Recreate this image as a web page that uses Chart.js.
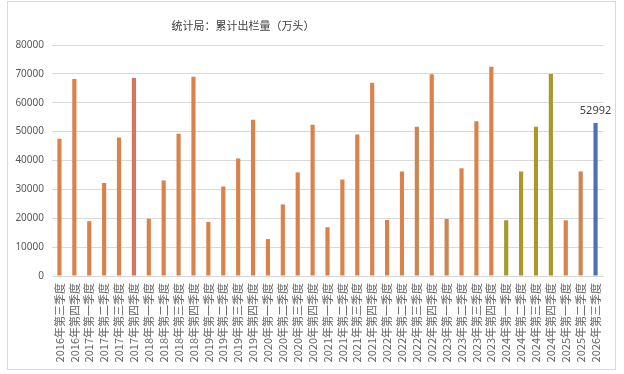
<!DOCTYPE html>
<html>
<head>
<meta charset="utf-8">
<script src="https://cdn.jsdelivr.net/npm/chart.js@4.4.1/dist/chart.umd.min.js"></script>
<style>
  body { margin: 0; background: #fff; }
  #wrap { position: relative; width: 624px; height: 374px; }
  #frame { position: absolute; left: 7px; top: 1px; width: 607px; height: 367px; border: 1px solid #d9d9d9; }
  #title { position: absolute; left: 143px; width: 200px; top: 17px; text-align: center;
    font: 11px "Noto Sans CJK SC", sans-serif; color: #404040; }
  canvas { position: absolute; left: 0; top: 0; }
</style>
</head>
<body>
<div id="wrap">
  <div id="frame"></div>
  <canvas id="myChart" width="624" height="374"></canvas>
  <div id="title">统计局：累计出栏量（万头）</div>
</div>
<script>
const quarters = [
  "2016年第三季度", "2016年第四季度",
  "2017年第一季度", "2017年第二季度", "2017年第三季度", "2017年第四季度",
  "2018年第一季度", "2018年第二季度", "2018年第三季度", "2018年第四季度",
  "2019年第一季度", "2019年第二季度", "2019年第三季度", "2019年第四季度",
  "2020年第一季度", "2020年第二季度", "2020年第三季度", "2020年第四季度",
  "2021年第一季度", "2021年第二季度", "2021年第三季度", "2021年第四季度",
  "2022年第一季度", "2022年第二季度", "2022年第三季度", "2022年第四季度",
  "2023年第一季度", "2023年第二季度", "2023年第三季度", "2023年第四季度",
  "2024年第一季度", "2024年第二季度", "2024年第三季度", "2024年第四季度",
  "2025年第一季度", "2025年第二季度", "2026年第三季度"
];

const slaughter = [
  47500, 68200,
  19000, 32200, 48000, 68600,
  19800, 33100, 49300, 69000,
  18700, 31000, 40700, 54100,
  12800, 24800, 35900, 52400,
  16900, 33400, 49000, 66900,
  19400, 36200, 51700, 69900,
  19800, 37300, 53600, 72500,
  19300, 36200, 51700, 70000,
  19300, 36200, 52992
];

const barColors = [
  "#d9834a", "#d9834a",
  "#d9834a", "#d9834a", "#d9834a", "#d6745c",
  "#d9834a", "#d9834a", "#d9834a", "#d9834a",
  "#d9834a", "#d9834a", "#d9834a", "#d9834a",
  "#d9834a", "#d9834a", "#d9834a", "#d9834a",
  "#d9834a", "#d9834a", "#d9834a", "#d9834a",
  "#d9834a", "#d9834a", "#cb8753", "#d9834a",
  "#cb8753", "#d9834a", "#d9834a", "#d9834a",
  "#a9982a", "#a9982a", "#a9982a", "#a9982a",
  "#d9834a", "#cb8753", "#4a72b8"
];

const yTicks = { min: 0, max: 80000, step: 10000 };

// value label only on the last bar
const lastLabel = {
  id: "lastLabel",
  afterDatasetsDraw(chart) {
    const meta = chart.getDatasetMeta(0);
    const i = slaughter.length - 1;
    const bar = meta.data[i];
    const ctx = chart.ctx;
    ctx.save();
    ctx.font = "11px 'Noto Sans', sans-serif";
    ctx.fillStyle = "#404040";
    ctx.textAlign = "center";
    ctx.textBaseline = "bottom";
    ctx.fillText(String(slaughter[i]), bar.x, bar.y - 7);
    ctx.restore();
  }
};

const chart = new Chart(document.querySelector("#myChart"), {
  type: "bar",
  data: {
    labels: quarters,
    datasets: [{
      data: slaughter,
      backgroundColor: barColors,
      barPercentage: 0.28,
      categoryPercentage: 1
    }]
  },
  options: {
    responsive: false,
    animation: false,
    layout: { padding: { top: 45, right: 21, left: 0, bottom: 0 } },
    plugins: { legend: { display: false }, tooltip: { enabled: false } },
    scales: {
      x: {
        grid: { display: false, drawTicks: false },
        border: { color: "#d9d9d9" },
        ticks: {
          autoSkip: false, minRotation: 90, maxRotation: 90, padding: 7,
          color: "#666666", font: { size: 11, family: "'Noto Sans CJK SC', sans-serif" }
        },
        afterFit: (s) => { s.height = 98; }
      },
      y: {
        min: yTicks.min, max: yTicks.max,
        grid: { color: "#d9d9d9", drawTicks: false },
        border: { display: false },
        ticks: {
          stepSize: yTicks.step, padding: 8,
          color: "#595959", font: { size: 10, family: "'Noto Sans', sans-serif" },
          callback: (v) => String(v)
        },
        afterFit: (s) => { s.width = 52; }
      }
    }
  },
  plugins: [lastLabel]
});
</script>
</body>
</html>
